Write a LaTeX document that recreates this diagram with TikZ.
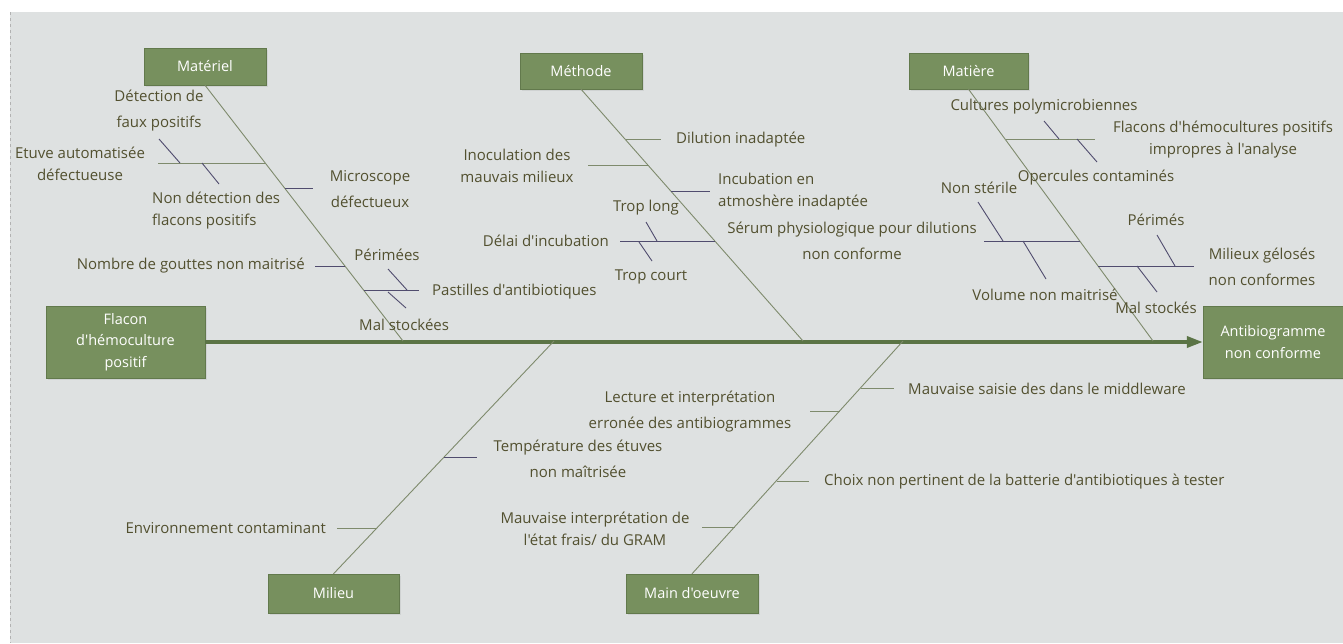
\documentclass[tikz,border=0pt]{standalone}
\usepackage{fontspec}
\setmainfont{Open Sans}[Ligatures=TeXOff]
\usetikzlibrary{arrows.meta,shadows}
\definecolor{bggray}{HTML}{DEE1E1}
\definecolor{boxgreen}{HTML}{77905E}
\definecolor{boxedge}{HTML}{62794C}
\definecolor{spinegreen}{HTML}{5B7446}
\definecolor{bonegray}{HTML}{7E8A6C}
\definecolor{subpurple}{HTML}{504C6E}
\definecolor{txtolive}{HTML}{52502F}
\tikzset{
  causebox/.style={draw=boxedge, fill=boxgreen, text=white, align=center, inner sep=0pt,
    font=\fontsize{14.5}{21.5}\selectfont, drop shadow={opacity=0.15, shadow xshift=1.5pt, shadow yshift=-1.5pt}},
  lbl/.style={text=txtolive, align=center, inner sep=0pt, font=\fontsize{15}{22}\selectfont},
  lblw/.style={lbl, font=\fontsize{15}{26}\selectfont},
  bone/.style={draw=bonegray, line width=0.9pt},
  sub/.style={draw=subpurple, line width=0.9pt},
  spine/.style={draw=spinegreen, line width=3.5pt, -{Triangle[length=16pt,width=11pt]}},
}
\newcommand{\CauseBox}[4][]{\node[causebox, #1] (#2) at #3 {#4};}
\newcommand{\Bar}[3][sub]{\draw[#1] (#2) -- (#3);}

\begin{document}
\begin{tikzpicture}[x=1pt, y=-1pt]
\useasboundingbox (0,0) rectangle (1343,643);
\fill[bggray] (10,12) rectangle (1343,643);
\draw[gray!60, dashed, line width=1pt] (10.5,12) -- (10.5,643);

% head, tail and categories
\CauseBox[minimum width=159pt, minimum height=72pt]{src}{(125.5,342)}{Flacon\\d'hémoculture\\positif}
\CauseBox[minimum width=140pt, minimum height=72pt]{eff}{(1273,342)}{Antibiogramme\\non conforme}
\CauseBox[minimum width=122pt, minimum height=37pt]{mat}{(205,66.5)}{Matériel}
\CauseBox[minimum width=122pt, minimum height=36pt]{met}{(581,71)}{Méthode}
\CauseBox[minimum width=119pt, minimum height=36pt]{mai}{(968.5,71)}{Matière}
\CauseBox[minimum width=131pt, minimum height=39pt]{mil}{(333.5,593.5)}{Milieu}
\CauseBox[minimum width=132pt, minimum height=39pt]{mdo}{(692,593.5)}{Main d'oeuvre}

\draw[spine] (src.east) -- (eff.west);

\coordinate (matEnd) at (403,341);
\coordinate (metEnd) at (803,341);
\coordinate (maiEnd) at (1153,341);
\coordinate (milEnd) at (554,341);
\coordinate (mdoEnd) at (903,341);
\draw[bone] (mat.south) -- (matEnd);
\draw[bone] (met.south) -- (metEnd);
\draw[bone] (mai.south) -- (maiEnd);
\draw[bone] (mil.north) -- (milEnd);
\draw[bone] (mdo.north) -- (mdoEnd);

% Materiel
\coordinate (a1) at (158,163); \coordinate (a2) at (265,163);
\coordinate (a3) at (159,139); \coordinate (a4) at (180,163);
\coordinate (a5) at (202,163); \coordinate (a6) at (219,184);
\coordinate (a7) at (285,188); \coordinate (a8) at (313,188);
\coordinate (a9) at (315,266); \coordinate (a10) at (345,266);
\coordinate (a11) at (364,290); \coordinate (a12) at (419,290);
\coordinate (a13) at (388,269); \coordinate (a14) at (407,290);
\coordinate (a15) at (388,292); \coordinate (a16) at (406,308);
\Bar[bone]{a1}{a2} \Bar{a3}{a4} \Bar{a5}{a6}
\Bar{a7}{a8} \Bar{a9}{a10}
\Bar{a11}{a12} \Bar{a13}{a14} \Bar{a15}{a16}
\node[lblw] (tDetect) at (159,111) {Détection de\\faux positifs};
\node[lbl] (tEtuve) at (80,164) {Etuve automatisée\\défectueuse};
\node[lbl, align=left, anchor=west] (tNonDet) at (152,211) {Non détection des\\flacons positifs};
\node[lblw] (tMicro) at (370,189) {Microscope\\défectueux};
\node[lbl, anchor=east] (tGouttes) at (305,266) {Nombre de gouttes non maitrisé};
\node[lbl] (tPerimees) at (387,255) {Périmées};
\node[lbl, anchor=west] (tPastilles) at (432,292) {Pastilles d'antibiotiques};
\node[lbl, anchor=west] (tMalStE) at (359,325) {Mal stockées};

% Methode
\coordinate (b1) at (626,139); \coordinate (b2) at (661,139);
\coordinate (b3) at (588,165); \coordinate (b4) at (649,165);
\coordinate (b5) at (671,191); \coordinate (b6) at (710,191);
\coordinate (b7) at (620,241); \coordinate (b8) at (715,241);
\coordinate (b9) at (646,222); \coordinate (b10) at (657,241);
\coordinate (b11) at (639,242); \coordinate (b12) at (652,261);
\Bar[bone]{b1}{b2} \Bar[bone]{b3}{b4} \Bar{b5}{b6}
\Bar{b7}{b8} \Bar{b9}{b10} \Bar{b11}{b12}
\node[lbl, anchor=west] (tDilution) at (676,140) {Dilution inadaptée};
\node[lbl] (tInoc) at (517,166) {Inoculation des\\mauvais milieux};
\node[lbl, align=left, anchor=west] (tIncub) at (718,192) {Incubation en\\atmoshère inadaptée};
\node[lbl] (tLong) at (646,208) {Trop long};
\node[lbl, anchor=east] (tDelai) at (609,241) {Délai d'incubation};
\node[lbl] (tCourt) at (651,277) {Trop court};
\node[lblw] (tSerum) at (852,241) {Sérum physiologique pour dilutions\\non conforme};

% Matiere
\coordinate (c1) at (1006,139); \coordinate (c2) at (1095,139);
\coordinate (c3) at (1044,121); \coordinate (c4) at (1059,139);
\coordinate (c5) at (1077,139); \coordinate (c6) at (1097,162);
\coordinate (c7) at (984,241); \coordinate (c8) at (1080,241);
\coordinate (c9) at (978,202); \coordinate (c10) at (1003,241);
\coordinate (c11) at (1023,241); \coordinate (c12) at (1046,279);
\coordinate (c13) at (1098,266); \coordinate (c14) at (1194,266);
\coordinate (c15) at (1157,235); \coordinate (c16) at (1175,266);
\coordinate (c17) at (1137,266); \coordinate (c18) at (1157,292);
\Bar[bone]{c1}{c2} \Bar{c3}{c4} \Bar{c5}{c6}
\Bar{c7}{c8} \Bar{c9}{c10} \Bar{c11}{c12}
\Bar{c13}{c14} \Bar{c15}{c16} \Bar{c17}{c18}
\node[lbl] (tCultures) at (1044,107) {Cultures polymicrobiennes};
\node[lbl] (tImpropres) at (1223,140) {Flacons d'hémocultures positifs\\impropres à l'analyse};
\node[lbl] (tOpercules) at (1096,178) {Opercules contaminés};
\node[lbl] (tSterile) at (979,188) {Non stérile};
\node[lbl] (tVolume) at (1045,295) {Volume non maitrisé};
\node[lbl] (tPerimes) at (1156,220) {Périmés};
\node[lblw] (tGeloses) at (1262,267) {Milieux gélosés\\non conformes};
\node[lbl] (tMalSt) at (1156,308) {Mal stockés};

% Milieu
\coordinate (d1) at (337,528); \coordinate (d2) at (377,528);
\coordinate (d3) at (444,457); \coordinate (d4) at (477,457);
\Bar[bone]{d1}{d2} \Bar{d3}{d4}
\node[lbl, anchor=east] (tEnv) at (326,528) {Environnement contaminant};
\node[lblw] (tTemp) at (578,459) {Température des étuves\\non maîtrisée};

% Main d'oeuvre
\coordinate (e1) at (861,388); \coordinate (e2) at (894,388);
\coordinate (e3) at (810,411); \coordinate (e4) at (840,411);
\coordinate (e5) at (777,481); \coordinate (e6) at (809,481);
\coordinate (e7) at (702,527); \coordinate (e8) at (735,527);
\Bar[bone]{e1}{e2} \Bar[bone]{e3}{e4} \Bar[bone]{e5}{e6} \Bar[bone]{e7}{e8}
\node[lbl, anchor=west] (tSaisie) at (908,389) {Mauvaise saisie des dans le middleware};
\node[lblw] (tLecture) at (690,412) {Lecture et interprétation\\erronée des antibiogrammes};
\node[lbl, anchor=west] (tChoix) at (824,482) {Choix non pertinent de la batterie d'antibiotiques à tester};
\node[lbl] (tGram) at (595,529) {Mauvaise interprétation de\\l'état frais/ du GRAM};
\end{tikzpicture}
\end{document}
